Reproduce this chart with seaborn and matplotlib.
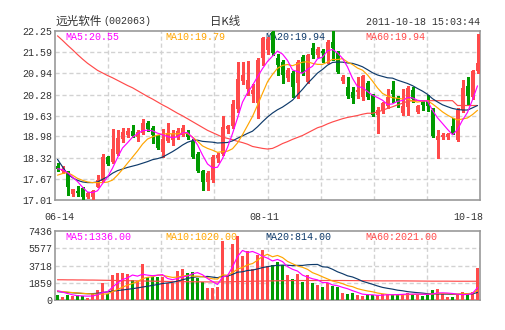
import numpy as np
import pandas as pd
import matplotlib
matplotlib.use("Agg")
import matplotlib.pyplot as plt
import matplotlib.transforms as mtransforms
import seaborn as sns

# ---- daily bars, 远光软件 (002063), 2011-06-14 .. 2011-10-18 ----
open_ = [18.05, 17.92, 17.89, 17.20, 17.29, 17.37, 17.11, 17.11, 17.42, 17.61,
         18.33, 18.20, 18.45, 18.90, 19.02, 19.15, 18.95, 19.10, 19.41, 19.25,
         19.00, 18.51, 18.85, 18.87, 18.95, 19.03, 19.13, 18.85, 18.44, 17.92,
         17.58, 17.62, 18.30, 18.44, 19.20, 19.30, 19.82, 20.71, 20.45, 20.30,
         20.01, 21.42, 21.65, 22.22, 21.40, 21.30, 20.78, 20.94, 20.63, 21.45,
         20.68, 21.71, 21.51, 21.64, 21.56, 21.92, 21.56, 20.70, 20.52, 20.37,
         20.37, 20.19, 20.63, 20.27, 19.65, 19.80, 19.92, 20.42, 20.16, 19.72,
         19.90, 20.42, 19.75, 20.05, 20.11, 19.80, 18.87, 18.96, 18.95, 19.30,
         18.87, 19.80, 20.55, 20.21, 21.00]
high = [18.15, 18.05, 17.92, 17.36, 17.45, 17.40, 17.25, 17.33, 17.80, 18.45,
        18.36, 19.21, 19.18, 19.25, 19.25, 19.33, 19.18, 19.51, 19.45, 19.30,
        19.03, 19.21, 19.40, 19.18, 19.25, 19.35, 19.18, 18.90, 18.50, 17.95,
        17.90, 18.40, 18.48, 19.60, 19.35, 20.10, 21.30, 21.30, 21.32, 20.60,
        21.40, 22.05, 22.05, 22.25, 21.55, 21.35, 21.10, 21.00, 21.35, 21.50,
        21.55, 21.87, 21.75, 21.70, 21.97, 22.25, 21.62, 20.88, 20.81, 20.52,
        20.81, 20.90, 20.70, 20.30, 19.90, 20.05, 20.45, 20.70, 20.25, 20.46,
        20.55, 20.50, 19.95, 20.10, 20.27, 19.85, 19.18, 19.10, 19.10, 19.55,
        19.85, 20.73, 20.83, 21.05, 22.15]
low = [17.90, 17.85, 17.17, 17.14, 17.12, 17.01, 17.08, 17.01, 17.40, 17.58,
       18.10, 18.15, 18.40, 18.80, 18.95, 18.95, 18.85, 19.05, 19.15, 18.78,
       18.60, 18.35, 18.80, 18.72, 18.90, 18.98, 18.90, 18.30, 17.88, 17.32,
       17.32, 17.58, 18.20, 18.40, 19.10, 19.25, 19.75, 20.60, 20.27, 20.05,
       19.55, 21.20, 21.55, 21.50, 20.90, 20.63, 20.70, 20.21, 20.16, 20.90,
       20.65, 21.40, 21.45, 21.30, 21.25, 21.35, 20.95, 20.65, 20.16, 20.01,
       20.16, 20.10, 20.15, 19.60, 19.08, 19.70, 19.85, 20.05, 19.90, 19.65,
       19.65, 20.05, 19.70, 19.80, 19.78, 18.95, 18.30, 18.90, 18.90, 19.05,
       18.85, 19.75, 19.95, 20.15, 20.95]
close = [17.98, 17.97, 17.40, 17.34, 17.22, 17.11, 17.22, 17.30, 17.63, 18.33,
         18.13, 18.59, 18.94, 19.12, 19.14, 19.00, 19.12, 19.41, 19.21, 19.04,
         18.63, 18.90, 19.10, 19.05, 19.16, 19.25, 18.95, 18.33, 17.92, 17.58,
         17.86, 18.35, 18.42, 19.28, 19.30, 20.00, 20.75, 20.89, 20.74, 20.42,
         21.35, 22.02, 22.00, 21.56, 21.20, 20.89, 21.04, 20.52, 21.30, 20.94,
         21.51, 21.51, 21.68, 21.56, 21.92, 21.71, 20.99, 20.83, 20.23, 20.16,
         20.42, 20.85, 20.21, 19.65, 19.80, 20.01, 20.19, 20.30, 20.05, 19.92,
         20.47, 20.15, 19.92, 19.95, 19.93, 19.00, 19.00, 19.03, 19.05, 19.08,
         19.80, 20.47, 20.23, 21.00, 21.25]
volume = [560, 300, 560, 380, 560, 380, 200, 620, 1050, 1800,
          700, 2700, 2900, 2900, 2750, 2200, 2100, 3900, 2450, 2450,
          2450, 2450, 1800, 1800, 3100, 3300, 2900, 3050, 2400, 1950,
          1300, 1250, 1450, 6400, 2700, 6000, 6850, 4750, 5250, 3300,
          4900, 5400, 3700, 3750, 4100, 3750, 2700, 2250, 2800, 1900,
          2700, 1800, 1650, 1350, 1850, 1480, 1400, 750, 600, 800,
          550, 450, 500, 500, 500, 650, 700, 500, 550, 650,
          800, 650, 550, 450, 580, 1050, 1150, 620, 350, 350,
          650, 900, 750, 900, 3480]

# moving-average values before a full window is available (from earlier sessions)
ma5_lead = [17.98, 17.95, 17.86, 17.72]
ma10_lead = [17.78, 17.83, 17.86, 17.78, 17.68, 17.62, 17.57, 17.55, 17.55]
ma20_lead = [18.27, 18.04, 17.82, 17.70, 17.62, 17.57, 17.55, 17.55, 17.57, 17.65,
             17.73, 17.84, 17.92, 17.97, 18.02, 18.06, 18.10, 18.15, 18.20]
ma60 = [22.10, 21.96, 21.81, 21.67, 21.52, 21.38, 21.25, 21.14, 21.03, 20.95,
        20.87, 20.80, 20.72, 20.64, 20.56, 20.49, 20.40, 20.31, 20.22, 20.14,
        20.05, 19.96, 19.88, 19.79, 19.70, 19.62, 19.53, 19.44, 19.35, 19.26,
        19.17, 19.10, 19.03, 18.96, 18.92, 18.88, 18.83, 18.79, 18.74, 18.67,
        18.64, 18.61, 18.59, 18.61, 18.68, 18.76, 18.82, 18.89, 18.95, 19.01,
        19.09, 19.17, 19.25, 19.30, 19.37, 19.43, 19.48, 19.53, 19.57, 19.60,
        19.63, 19.67, 19.70, 19.70, 19.74, 19.79, 19.85, 19.90, 19.96, 20.01,
        20.07, 20.09, 20.09, 20.09, 20.09, 20.09, 20.09, 20.09, 20.09, 20.09,
        19.94, 19.94, 19.94, 19.94, 19.94]
vol_ma5_lead = [1000, 850, 700, 560]
vol_ma10_lead = [950, 900, 850, 800, 760, 720, 680, 650, 630]
vol_ma20_lead = [900, 860, 820, 780, 740, 700, 680, 690, 720, 800,
                 880, 960, 1020, 1080, 1150, 1220, 1300, 1400, 1480]
vol_ma60 = [2180, 2180, 2170, 2170, 2160, 2160, 2150, 2150, 2140, 2130,
            2120, 2110, 2100, 2090, 2080, 2070, 2060, 2050, 2040, 2030,
            2020, 2010, 2000, 1990, 1980, 1975, 1970, 1965, 1960, 1955,
            1950, 1945, 1940, 1950, 1960, 1975, 1990, 2000, 2010, 2020,
            2030, 2040, 2050, 2060, 2070, 2080, 2085, 2090, 2095, 2100,
            2100, 2100, 2100, 2100, 2100, 2100, 2100, 2100, 2095, 2090,
            2085, 2080, 2075, 2070, 2065, 2060, 2060, 2060, 2060, 2060,
            2055, 2050, 2045, 2040, 2035, 2030, 2030, 2030, 2030, 2025,
            2021, 2021, 2021, 2021, 2021]

date_labels = ["06-14", "08-11", "10-18"]
date_label_idx = [0, 42, 84]
price_tick_labels = ["17.01", "17.67", "18.32", "18.98", "19.63",
                     "20.28", "20.94", "21.59", "22.25"]
vol_tick_labels = ["0", "1859", "3718", "5577", "7436"]

# ---- styling ----
UP = "#FF4A4A"
DOWN = "#009A00"
C_MA5, C_MA10, C_MA20, C_MA60 = "#FF00FF", "#FFA500", "#0E3A6A", "#FF4A4A"
GRID = "#D2D2D2"
FRAME = "#999999"
TXT = "#333333"
MONO = "Liberation Mono"
CJK = ["Noto Sans CJK SC", "DejaVu Sans"]
LINE_W = 0.85

sns.set_theme(style="white")
plt.rcParams["font.family"] = [MONO, "DejaVu Sans"]


def moving_average(values, n, lead):
    s = pd.Series(values, dtype=float).rolling(n).mean()
    s.iloc[: n - 1] = lead
    return s


n = len(close)
df = pd.DataFrame({
    "idx": np.arange(n),
    "open": open_, "high": high, "low": low, "close": close,
    "volume": volume,
})
df["ma5"] = moving_average(close, 5, ma5_lead)
df["ma10"] = moving_average(close, 10, ma10_lead)
df["ma20"] = moving_average(close, 20, ma20_lead)
df["ma60"] = ma60
df["vma5"] = moving_average(volume, 5, vol_ma5_lead)
df["vma10"] = moving_average(volume, 10, vol_ma10_lead)
df["vma20"] = moving_average(volume, 20, vol_ma20_lead)
df["vma60"] = vol_ma60
df["up"] = df["close"] >= df["open"]
colors = np.where(df["up"], UP, DOWN)

W, H = 505, 330
fig = plt.figure(figsize=(W / 100, H / 100), dpi=100)
fig.patch.set_facecolor("white")


def px_rect(x0, y0, x1, y1):
    return [x0 / W, 1 - y1 / H, (x1 - x0) / W, (y1 - y0) / H]


ax = fig.add_axes(px_rect(55, 31, 480, 200))
axv = fig.add_axes(px_rect(55, 231, 480, 300))

xlim = (-0.5, n - 0.5)
vgrid = [xlim[0] + (xlim[1] - xlim[0]) * k / 8 for k in range(1, 8)]

for a in (ax, axv):
    a.set_facecolor("white")
    a.set_xlim(*xlim)
    for x in vgrid:
        a.axvline(x, color=GRID, lw=1, ls=(0, (3, 2)), zorder=0)
    for sp in a.spines.values():
        sp.set_color(FRAME)
        sp.set_linewidth(1.2)
        sp.set_visible(True)
    a.tick_params(axis="both", length=0, colors=TXT, labelsize=7.2)

# ---- price panel ----
price_ticks = [float(s) for s in price_tick_labels]
ax.set_ylim(price_ticks[0], price_ticks[-1])
ax.set_yticks(price_ticks)
ax.set_yticklabels(price_tick_labels)
for y in price_ticks[1:-1]:
    ax.axhline(y, color=GRID, lw=1, ls=(0, (3, 2)), zorder=0)

ax.vlines(df["idx"], df["low"], df["high"], colors=colors, lw=1,
          zorder=3, antialiased=False)
body_bottom = np.minimum(df["open"], df["close"])
body_height = np.maximum(np.abs(df["close"] - df["open"]), 0.012)
ax.bar(df["idx"], body_height, bottom=body_bottom, width=0.72,
       color=colors, linewidth=0, zorder=3, antialiased=False)

for col, c in (("ma60", C_MA60), ("ma20", C_MA20), ("ma10", C_MA10), ("ma5", C_MA5)):
    sns.lineplot(data=df, x="idx", y=col, ax=ax, color=c, lw=LINE_W,
                 zorder=4, legend=False)
ax.set_xlabel("")
ax.set_ylabel("")

ax.set_xticks(date_label_idx)
ax.set_xticklabels(date_labels)
ax.tick_params(axis="x", pad=9)
ax.tick_params(axis="y", pad=2.2)
shifts = [(2, "center"), (-3, "center"), (6, "right")]
for lab, (dx, ha) in zip(ax.get_xticklabels(), shifts):
    lab.set_ha(ha)
    lab.set_transform(lab.get_transform() +
                      mtransforms.ScaledTranslation(dx / 100, 0, fig.dpi_scale_trans))

# ---- volume panel ----
vol_ticks = [float(s) for s in vol_tick_labels]
axv.set_ylim(vol_ticks[0], vol_ticks[-1])
axv.set_yticks(vol_ticks)
axv.set_yticklabels(vol_tick_labels)
axv.tick_params(axis="y", pad=2.2)
axv.set_xticks([])
for y in vol_ticks[1:-1]:
    axv.axhline(y, color=GRID, lw=1, ls=(0, (3, 2)), zorder=0)

axv.bar(df["idx"], df["volume"], width=0.76, color=colors, linewidth=0,
        zorder=3, antialiased=False)
for col, c in (("vma60", C_MA60), ("vma20", C_MA20), ("vma10", C_MA10), ("vma5", C_MA5)):
    sns.lineplot(data=df, x="idx", y=col, ax=axv, color=c, lw=LINE_W,
                 zorder=4, legend=False)
axv.set_xlabel("")
axv.set_ylabel("")

# ---- indicator read-outs (drawn beneath the marks) ----
last = df.iloc[-1]
price_tags = [(f"MA5:{last['ma5']:.2f}", C_MA5), (f"MA10:{last['ma10']:.2f}", C_MA10),
              (f"MA20:{last['ma20']:.2f}", C_MA20), (f"MA60:{last['ma60']:.2f}", C_MA60)]
vol_tags = [(f"MA5:{last['vma5']:.2f}", C_MA5), (f"MA10:{last['vma10']:.2f}", C_MA10),
            (f"MA20:{last['vma20']:.2f}", C_MA20), (f"MA60:{last['vma60']:.2f}", C_MA60)]
for k, (t, c) in enumerate(price_tags):
    ax.text(10 / 425 + k * 100 / 425, 1 - 5.5 / 169, t, transform=ax.transAxes,
            color=c, fontsize=7.2, family=MONO, ha="left", va="center", zorder=1)
for k, (t, c) in enumerate(vol_tags):
    axv.text(10 / 425 + k * 100 / 425, 1 - 5.5 / 69, t, transform=axv.transAxes,
             color=c, fontsize=7.2, family=MONO, ha="left", va="center", zorder=1)

# ---- header ----
fig.text(55 / W, 1 - 21 / H, "远光软件", family=CJK, fontsize=8.4, color=TXT,
         ha="left", va="center")
fig.text(103 / W, 1 - 21.5 / H, "(002063)", family=MONO, fontsize=7.2, color=TXT,
         ha="left", va="center")
fig.text(225 / W, 1 - 21 / H, "日K线", family=CJK, fontsize=8.2, color=TXT,
         ha="center", va="center")
fig.text(479.5 / W, 1 - 22 / H, "2011-10-18 15:03:44", family=MONO, fontsize=7.2,
         color=TXT, ha="right", va="center")

fig.savefig("out.png", dpi=100, facecolor="white")
